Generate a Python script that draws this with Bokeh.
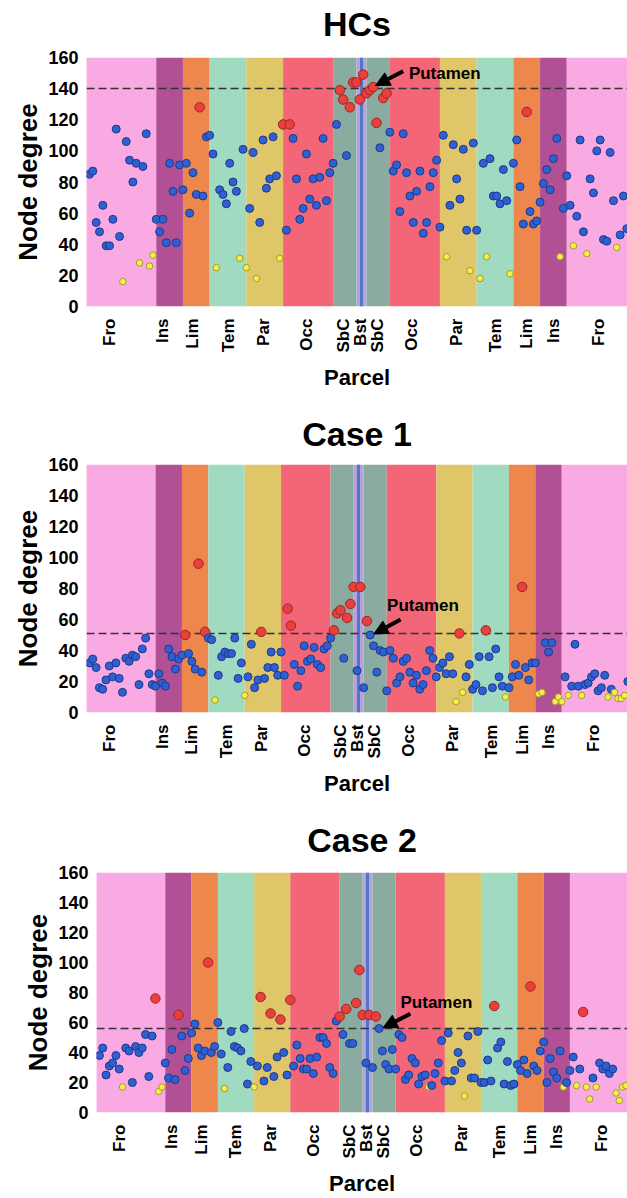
import math
from bokeh.plotting import figure
from bokeh.layouts import column, row
from bokeh.models import (ColumnDataSource, FixedTicker, Arrow, NormalHead, Range1d, Label,
                          Spacer, LinearAxis)
from bokeh.embed import file_html
from bokeh.resources import INLINE

# ---------------- data ----------------
region_names = ["Fro", "Ins", "Lim", "Tem", "Par", "Occ", "SbC", "Bst", "SbC",
                "Occ", "Par", "Tem", "Lim", "Ins", "Fro"]
region_sizes = [21, 8, 8, 11, 11, 15, 7, 3, 7, 15, 11, 11, 8, 8, 21]
region_colors = ["#f9aae3", "#b25096", "#ed874b", "#a0dac0", "#dec669", "#f26678",
                 "#8aab9f", "#b6a2d8", "#8aab9f", "#f26678", "#dec669", "#a0dac0",
                 "#ed874b", "#b25096", "#f9aae3"]
tick_positions = [7, 23, 32, 42.5, 53, 66, 77, 82.2, 87.3, 97.5, 111, 122.6, 132, 140, 153.5]

panel_titles = ["HCs", "Case 1", "Case 2"]
thresholds = [140, 51, 56]
putamen_node = 86

hc_degree = [85, 87, 54, 48, 65, 39, 39, 56, 114, 45, 16, 106, 94, 80, 92, 28, 90, 111, 26, 33, 56,
             48, 56, 41, 92, 74, 41, 91, 75,
             92, 60, 86, 72, 128, 71, 109, 110,
             98, 25, 75, 72, 66, 92, 80, 74, 31, 101, 25,
             63, 99, 18, 54, 107, 76, 82, 109, 84, 31, 117,
             49, 117, 108, 82, 56, 63, 98, 69, 82, 65, 83, 108, 68, 86, 92,
             117, 139, 133, 97, 128, 144, 144, 133, 149, 137, 139, 141, 118, 102, 134, 137, 112,
             87, 91, 61, 111, 86, 71, 54, 74, 87, 47, 54, 77, 86, 94, 51,
             110, 32, 65, 104, 82, 69, 101, 49, 23, 105, 49,
             18, 92, 32, 95, 71, 71, 66, 88, 68, 21, 92,
             107, 77, 53, 125, 61, 53, 55, 67,
             79, 88, 75, 95, 108, 32, 63, 84,
             65, 39, 58, 107, 48, 34, 82, 73, 100, 107, 43, 42, 99, 68, 38, 46, 71, 50]
hc_class = ("bbbbbbbbbbybbbbybbyyb" "bbbbbbbb" "bbbbrbbb" "bybbbbbbyby" "bbybbbbbbyr"
            "brbbbbbbbbbbbbb" "brrbrrrrrrrrrbrrb" "bbbbbbbbbbbbbbb" "bybbbbbbybb"
            "ybybbbbbbyb" "bbbrbbbb" "bbbbbybb" "bybbbybbbbbbbbybbb")

case1_degree = [32, 34.5, 29, 16, 15, 21, 30, 23, 32, 22, 13, 35, 33, 37, 36, 18, 41, 48, 25, 18, 17,
                25, 19, 17, 41, 36, 28, 34.5, 37,
                50, 38, 33, 28, 96, 26, 52, 48,
                47, 8, 24, 36, 39, 38, 38, 48, 22, 32, 11,
                23, 44, 16, 21, 52, 22, 29, 39, 29, 24, 39,
                24, 67, 56, 31, 17, 27, 43, 33, 34.5, 42, 31, 29, 41, 43, 48,
                53, 64, 66, 35, 61, 70, 81, 27, 81, 16, 59, 50, 43, 26, 40, 39, 14,
                40, 35, 19, 23, 33, 35, 26, 19, 24, 15, 18, 27, 40, 35, 23,
                29, 32, 25, 36, 25, 7, 51, 13, 23, 31, 15,
                18, 36, 14, 53, 36, 16, 41, 23, 17, 10, 16,
                23, 31, 24, 81, 29, 21, 32, 32,
                12, 13, 45, 39, 45, 7, 10, 7,
                23, 11, 17, 44, 17, 11, 18, 19, 23, 25, 14, 16, 24, 10, 15, 13, 9, 9, 11, 20]
case1_class = ("bbbbbbbbbbbbbbbbbbbbb" "bbbbbbbb" "rbbbrbrb" "bybbbbbbbby" "bbbbrbbbbbb"
               "brrbbbbbbbbbbbb" "rrrbrrrbrbrbbbbbb" "bbbbbbbbbbbbbbb" "bbbbbyryb" "bb"
               "bbbrbbbbbyb" "bbbrbbbb" "yybbbyyy" "bybbbybbbbbbbybyyyyb")

case2_degree = [38, 43, 25, 31, 33, 38, 29, 17, 43, 41, 20, 44, 40, 43, 52, 24, 51, 76, 14, 17, 33,
                23, 42, 22, 65, 51, 28, 36, 53,
                59, 43, 38, 41, 100, 40, 44, 60,
                39, 16, 30, 54, 44, 43, 41, 56, 19, 34, 17,
                31, 77, 21, 30, 66, 24, 37, 62, 40, 25, 75,
                31, 45, 36, 29, 29, 36, 26, 37, 50, 50, 46, 30, 26, 61, 64,
                52, 69, 46, 46, 73, 95, 65, 33, 65, 30, 64, 56, 41, 32, 29, 42, 29,
                52, 50, 22, 25, 36, 33, 19, 24, 25, 17, 18, 26, 33, 48, 21,
                53, 21, 28, 40, 33, 11, 51, 23, 23, 54, 20,
                20, 35, 21, 71, 43, 47, 19, 34, 18, 19, 32,
                28, 35, 26, 84, 31, 28, 41, 47,
                20, 36, 27, 23, 41, 17, 20, 28,
                37, 18, 29, 67, 17, 9, 23, 17, 33, 29, 31, 26, 29, 13, 8, 17, 18]
case2_class = ("bbbbbbbybbbbbbbbbryyb" "bbbrbbbb" "bbbbrbbb" "bybbbbbbbby" "brbbrbbrbbr"
               "bbbbbbbbbbbbbbr" "brbbrrrbrbrbbbbbb" "bbbbbbbbbybbbbb" "bbbbbybbbbb"
               "bbbrbbbbbbb" "bbbrbbbb" "bbbbbybb" "bybryybybbbbbyyyy")

degrees = [hc_degree, case1_degree, case2_degree]
classes = [hc_class, case1_class, case2_class]

# ---------------- styles / layout ----------------
FONT = "Liberation Sans"
point_style = {
    "b": ("#2f5fd0", "#1c3a8a", 8),
    "r": ("#e8403c", "#a32222", 9.5),
    "y": ("#f4ee4a", "#a39b2c", 6.5),
}
panel_layout = [
    # width, height, border_top, border_bottom, x_end, title_standoff, left_pad
    (627, 407, 57, 101, 162.2, 15, 0),
    (627, 407, 57, 102, 163.9, 12, 0),
    (617, 384, 58, 80, 161.5, 14, 10),
]
# arrow head / tail and label offsets (data units) from the putamen point
arrow_offsets = [
    ((0.7, 1.0), (9.0, 10.2), (10.7, 8.7)),
    ((1.1, 0.7), (9.2, 10.0), (5.1, 19.0)),
    ((1.2, 0.5), (9.5, 9.8), (6.5, 17.4)),
]

bounds = [0]
for s in region_sizes:
    bounds.append(bounds[-1] + s)
lefts, rights = bounds[:-1], bounds[1:]
bst_i = region_names.index("Bst")
bst_center = (lefts[bst_i] + rights[bst_i]) / 2


def style_axis(ax):
    ax.axis_line_color = None
    ax.major_tick_line_color = None
    ax.minor_tick_line_color = None
    ax.major_tick_out = 0
    ax.major_tick_in = 0
    ax.minor_tick_out = 0
    ax.minor_tick_in = 0
    ax.major_label_text_font = FONT
    ax.major_label_text_font_style = "bold"
    ax.major_label_text_color = "black"
    ax.axis_label_text_font = FONT
    ax.axis_label_text_font_style = "bold"
    ax.axis_label_text_color = "black"


def make_panel(k):
    width, height, bt, bb, x_end, t_standoff, _ = panel_layout[k]
    deg, cls = degrees[k], classes[k]
    p = figure(width=width, height=height, x_range=Range1d(0.1, x_end), y_range=Range1d(0, 160),
               output_backend="svg", toolbar_location=None,
               min_border_left=86, min_border_right=0, min_border_top=bt, min_border_bottom=bb)
    p.outline_line_color = None
    p.grid.visible = False
    p.background_fill_color = "white"

    p.quad(left=lefts, right=rights, bottom=0, top=160, fill_color=region_colors, line_color=None)
    p.vspan(x=[bst_center], line_color="#4f78c8", line_width=3)
    p.hspan(y=[thresholds[k]], line_color="#333333", line_width=1.5, line_dash="8 4")

    xs = list(range(1, len(deg) + 1))
    src = ColumnDataSource(dict(
        x=xs, y=deg,
        fill=[point_style[c][0] for c in cls],
        line=[point_style[c][1] for c in cls],
        size=[point_style[c][2] for c in cls],
    ))
    p.scatter(x="x", y="y", size="size", fill_color="fill", line_color="line", line_width=1, source=src)

    # putamen annotation
    px, py = putamen_node, deg[putamen_node - 1]
    (hx, hy), (tx, ty), (lx, ly) = arrow_offsets[k]
    p.add_layout(Arrow(end=NormalHead(size=14, fill_color="black", line_color="black"),
                       x_start=px + tx, y_start=py + ty, x_end=px + hx, y_end=py + hy,
                       line_width=4, line_color="black"))
    p.add_layout(Label(x=px + lx, y=py + ly, text="Putamen", text_font=FONT,
                       text_font_size="17px", text_font_style="bold", text_baseline="middle",
                       text_color="black"))

    # bottom / left axes
    xa, ya = p.below[0], p.left[0]
    xa.ticker = FixedTicker(ticks=tick_positions)
    xa.major_label_overrides = {t: n for t, n in zip(tick_positions, region_names)}
    xa.major_label_orientation = math.pi / 2
    ya.ticker = FixedTicker(ticks=list(range(0, 161, 20)))
    for ax in (xa, ya):
        style_axis(ax)
    xa.major_label_text_font_size = "17px"
    ya.major_label_text_font_size = "18px"
    xa.major_label_standoff = 12
    ya.major_label_standoff = 8
    xa.axis_label = "Parcel"
    ya.axis_label = "Node degree"
    xa.axis_label_text_font_size = "22px"
    ya.axis_label_text_font_size = "26px"
    xa.axis_label_standoff = 9
    ya.axis_label_standoff = 2

    # panel title as the label of an empty top axis
    top = LinearAxis(ticker=FixedTicker(ticks=[]), axis_label=panel_titles[k])
    style_axis(top)
    top.axis_label_text_font_size = "34px"
    top.axis_label_standoff = t_standoff
    p.add_layout(top, "above")
    return p


panels = []
for k in range(3):
    p = make_panel(k)
    pad = panel_layout[k][6]
    panels.append(row(Spacer(width=pad, height=panel_layout[k][1]), p, spacing=0) if pad else p)
layout = column(*panels, spacing=0)
open("out.html", "w").write(file_html(layout, INLINE))
